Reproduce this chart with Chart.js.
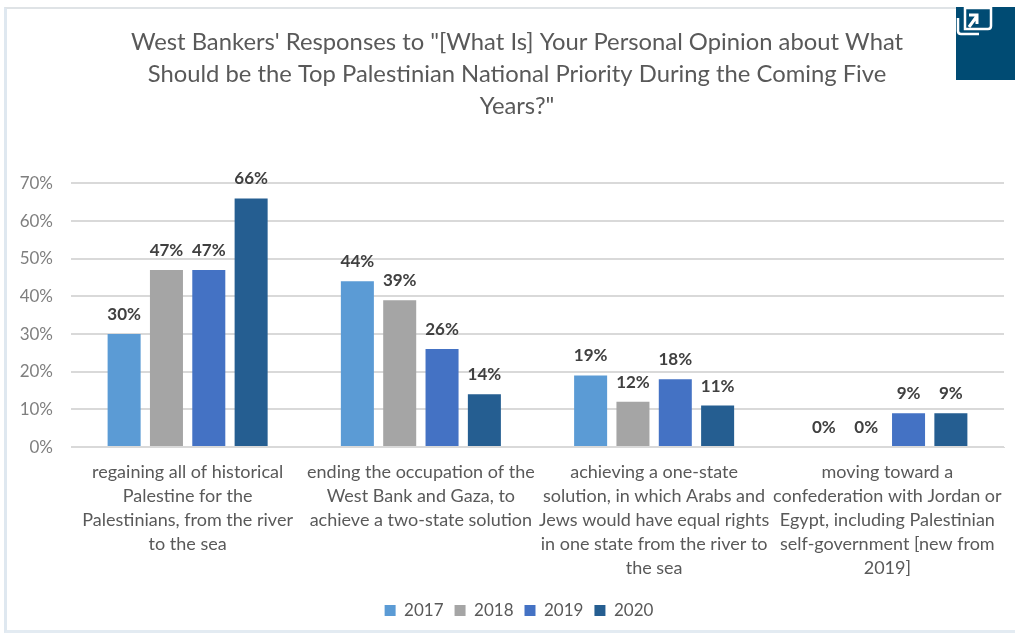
<!DOCTYPE html>
<html>
<head>
<meta charset="utf-8">
<title>National priority</title>
<script src="https://cdn.jsdelivr.net/npm/chart.js@4/dist/chart.umd.min.js"></script>
<style>
    html, body { margin: 0; padding: 0; background: #fff; overflow: hidden; }
    #wrap { position: relative; width: 1015px; height: 638px; }
    #frame { position: absolute; left: 4px; top: 7px; width: 1011px; height: 626px; box-sizing: border-box;
        border-left: 3px solid #dfe8f0; border-top: 2px solid #dfe3e6; border-bottom: 3px solid #e3ebf2; }
    #graficaPrioridad { position: absolute; left: 0; top: 0; }
    #expand { position: absolute; left: 956px; top: 7px; width: 59px; height: 73px; background: #004b73; }
</style>
</head>
<body>
<div id="wrap">
    <div id="frame"></div>
    <canvas id="graficaPrioridad" width="1015" height="638"></canvas>
    <div id="expand">
        <svg width="59" height="73" fill="none" stroke="#fff" stroke-width="2.5">
            <path d="M9 1 H35 V19 Q35 22 32 22 H9 Z" />
            <path d="M2 11 V24 Q2 27 5 27 H23" />
            <path d="M13 20 L21 9 M13 8 H21 V17" stroke-width="3" />
        </svg>
    </div>
</div>
<script>
"use strict";

const categorias = [
    ["regaining all of historical", "Palestine for the", "Palestinians, from the river", "to the sea"],
    ["ending the occupation of the", "West Bank and Gaza, to", "achieve a two-state solution"],
    ["achieving a one-state", "solution, in which Arabs and", "Jews would have equal rights", "in one state from the river to", "the sea"],
    ["moving toward a", "confederation with Jordan or", "Egypt, including Palestinian", "self-government [new from", "2019]"],
];
const titulo = [
    "West Bankers' Responses to \"[What Is] Your Personal Opinion about What",
    "Should be the Top Palestinian National Priority During the Coming Five",
    "Years?\"",
];
const valores2017 = [30, 44, 19, 0];
const valores2018 = [47, 39, 12, 0];
const valores2019 = [47, 26, 18, 9];
const valores2020 = [66, 14, 11, 9];

const fuente = "Lato, 'Open Sans', sans-serif";

// Etiquetas de valor sobre cada barra
const etiquetasBarras = {
    id: "etiquetasBarras",
    afterDatasetsDraw(chart) {
        const { ctx } = chart;
        ctx.save();
        ctx.font = `bold 17px ${fuente}`;
        ctx.fillStyle = "#404040";
        ctx.textAlign = "center";
        ctx.textBaseline = "bottom";
        chart.data.datasets.forEach((ds, i) => {
            chart.getDatasetMeta(i).data.forEach((bar, j) => {
                ctx.fillText(ds.data[j] + "%", bar.x, bar.y - 11);
            });
        });
        ctx.restore();
    },
};

// Titulo y leyenda van centrados algo a la derecha del lienzo
const centrarBloques = {
    id: "centrarBloques",
    afterLayout(chart) {
        chart.titleBlock.left += 10;
        chart.legend.left += 14;
    },
};

new Chart(document.querySelector("#graficaPrioridad"), {
    type: "bar",
    data: {
        labels: categorias,
        datasets: [
            { label: "2017", data: valores2017, backgroundColor: "#5b9bd5" },
            { label: "2018", data: valores2018, backgroundColor: "#a5a5a5" },
            { label: "2019", data: valores2019, backgroundColor: "#4472c4" },
            { label: "2020", data: valores2020, backgroundColor: "#255e91" },
        ],
    },
    options: {
        responsive: false,
        animation: false,
        categoryPercentage: 0.726,
        barPercentage: 0.78,
        layout: { padding: { left: 20, right: 11, top: 0, bottom: 9 } },
        plugins: {
            title: {
                display: true,
                text: titulo,
                color: "#595959",
                font: { family: fuente, size: 23.8, weight: "normal", lineHeight: 1.35 },
                padding: { top: 26, bottom: 61 },
            },
            legend: {
                position: "bottom",
                labels: {
                    boxWidth: 11,
                    boxHeight: 11,
                    padding: 11,
                    color: "#595959",
                    font: { family: fuente, size: 17 },
                },
            },
            tooltip: { enabled: false },
        },
        scales: {
            x: {
                grid: { display: false },
                border: { color: "#d9d9d9" },
                // deja hueco entre las etiquetas largas y la leyenda
                afterFit: (scale) => {
                    scale.height += 6;
                },
                ticks: {
                    autoSkip: false,
                    maxRotation: 0,
                    minRotation: 0,
                    padding: 5,
                    color: "#595959",
                    font: { family: fuente, size: 18, lineHeight: 1.333 },
                },
            },
            y: {
                min: 0,
                max: 70,
                grid: { color: "#d9d9d9", lineWidth: 2, drawTicks: false },
                border: { display: false },
                afterFit: (scale) => {
                    scale.width = 51;
                },
                ticks: {
                    stepSize: 10,
                    padding: 18,
                    color: "#7f7f7f",
                    font: { family: fuente, size: 17 },
                    callback: (v) => v + "%",
                },
            },
        },
    },
    plugins: [etiquetasBarras, centrarBloques],
});
</script>
</body>
</html>
